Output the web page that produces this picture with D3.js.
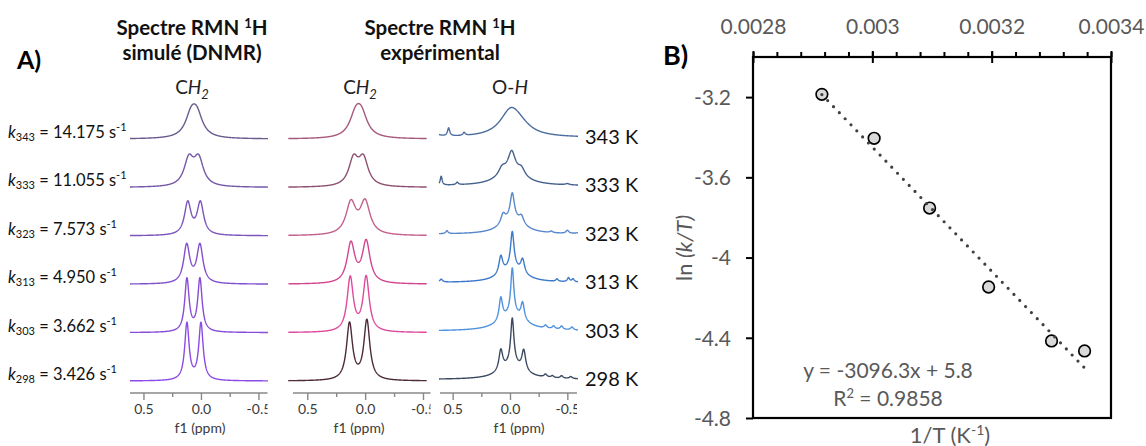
<!DOCTYPE html>
<html>
<head>
<meta charset="utf-8">
<script src="https://cdnjs.cloudflare.com/ajax/libs/d3/7.8.5/d3.min.js"></script>
<style>
  body { margin: 0; background: #fff; }
  svg text { font-family: Lato, "Open Sans", sans-serif; }
</style>
</head>
<body>
<svg id="chart" width="1146" height="446"></svg>
<script>
// temperatures (K) and fitted DNMR exchange rates (s-1)
const temps = [343, 333, 323, 313, 303, 298];
const kRates = [14.175, 11.055, 7.573, 4.950, 3.662, 3.426];
const kText = ["14.175", "11.055", "7.573", "4.950", "3.662", "3.426"];

// ppm axis of the spectra
const ppmMajor = [0.5, 0, -0.5];
const ppmMinor = [0.25, -0.25];

// simulated CH2 peaks, one list per temperature: [ppm, intensity, half width ppm]
const simCH2 = [
  [[0.085, 20.6, 0.06], [0.035, 20.6, 0.06]],
  [[0.105, 26.3, 0.05], [0.02, 26.3, 0.05]],
  [[0.115, 32.2, 0.034], [0.005, 32.2, 0.034]],
  [[0.124, 38.2, 0.032], [0.009, 38.2, 0.032]],
  [[0.122, 52.9, 0.023], [0.009, 52.9, 0.023]],
  [[0.122, 57, 0.023], [0.0, 57, 0.023]]
];

// experimental CH2 peaks
const expCH2 = [
  [[0.082, 20.6, 0.062], [0.032, 20.6, 0.062]],
  [[0.10, 26.3, 0.05], [0.015, 26.3, 0.05]],
  [[0.123, 31.5, 0.051], [0.0, 32.3, 0.051]],
  [[0.123, 39.7, 0.04], [-0.009, 41.5, 0.04]],
  [[0.129, 54, 0.032], [-0.009, 54.5, 0.032]],
  [[0.135, 56.7, 0.031], [-0.015, 59.6, 0.031]]
];

// experimental O-H peaks
const expOH = [
  [[-0.005, 24, 0.11], [-0.08, 8, 0.12], [0.535, 8, 0.012], [0.40, 3, 0.012], [0.66, 4, 0.04]],
  [[-0.01, 15, 0.13], [-0.015, 18.5, 0.035], [0.07, 7, 0.035], [-0.10, 7, 0.035], [0.60, 9, 0.01], [0.46, 2.5, 0.012], [-0.5, 1.2, 0.02]],
  [[-0.02, 14, 0.12], [-0.02, 26, 0.022], [0.06, 10, 0.025], [-0.10, 8, 0.025], [0.55, 3, 0.012], [-0.36, 1.5, 0.015], [-0.5, 3, 0.015], [-0.62, 3, 0.02]],
  [[-0.02, 14, 0.12], [-0.02, 36, 0.018], [0.08, 18, 0.02], [-0.11, 14, 0.02], [0.60, 3, 0.015], [-0.41, 2.5, 0.012], [-0.51, 4, 0.012], [-0.55, 3, 0.012]],
  [[-0.02, 16, 0.13], [-0.02, 46, 0.016], [0.08, 23, 0.018], [-0.11, 17, 0.018], [-0.31, 3, 0.015], [-0.38, 3, 0.015], [-0.45, 3.5, 0.015], [-0.54, 3, 0.015]],
  [[-0.02, 14, 0.12], [-0.02, 46, 0.017], [0.08, 21, 0.02], [-0.12, 20.5, 0.02], [-0.31, 3, 0.015], [-0.37, 2, 0.015], [-0.45, 2.5, 0.015], [-0.53, 2, 0.015]]
];

const simColors = ["#6c5b8e", "#7459a6", "#7b55bb", "#8150cc", "#874dd8", "#8c4be6"];
const ch2Colors = ["#a65a7c", "#8e5070", "#c4608c", "#d24690", "#e04a9c", "#4e2a3a"];
const ohColors = ["#4c6e9e", "#46638f", "#5888cc", "#3d79cb", "#4f92de", "#3b4a62"];

// Eyring plot
const invTTicks = [0.0028, 0.003, 0.0032, 0.0034];
const invTLabels = ["0.0028", "0.003", "0.0032", "0.0034"];
const lnTicks = [-3.2, -3.6, -4, -4.4, -4.8];
const lnLabels = ["-3.2", "-3.6", "-4", "-4.4", "-4.8"];
const eqText = "y = -3096.3x + 5.8";
const r2Value = "0.9858";

const svg = d3.select("#chart");
svg.append("rect").attr("width", 1146).attr("height", 446).attr("fill", "#fff");

const rowY = d3.scalePoint().domain(temps).range([139, 381]);

function lorentz(peaks, ppm) {
  return d3.sum(peaks, ([c, a, w]) => a * w * w / (w * w + (ppm - c) * (ppm - c)));
}

const panels = [
  { dom: [0.617, -0.583], range: [130, 268], axis: [130, 268], clip: 267.5, label: 200 },
  { dom: [0.664, -0.532], range: [288.3, 426.7], axis: [293, 431], clip: 430.5, label: 359 },
  { dom: [0.619, -0.593], range: [439, 578], axis: [440, 578], clip: 577, label: 519 }
];
panels.forEach(p => {
  p.x = d3.scaleLinear().domain(p.dom).range(p.range);
  p.grid = d3.range(p.dom[0], p.dom[1] - 0.0001, -0.002);
});

const yAmp = d3.scaleLinear().domain([0, 60]).range([0, 60]);

const gA = svg.append("g");

function drawCurve(panel, peaks, base, color) {
  const line = d3.line().x(d => panel.x(d)).y(d => base - yAmp(lorentz(peaks, d)));
  gA.append("path").attr("d", line(panel.grid)).attr("fill", "none")
    .attr("stroke", color).attr("stroke-width", 1.4).attr("stroke-linejoin", "round");
}

temps.forEach((t, i) => {
  const base = rowY(t);
  drawCurve(panels[0], simCH2[i], base, simColors[i]);
  drawCurve(panels[1], expCH2[i], base, ch2Colors[i]);
  drawCurve(panels[2], expOH[i], base - 1.5, ohColors[i]);

  // k labels
  const lab = gA.append("text").attr("x", 8).attr("y", base - 5)
    .attr("dominant-baseline", "middle").attr("font-size", 16.5).attr("fill", "#111");
  lab.append("tspan").attr("font-style", "italic").text("k");
  lab.append("tspan").attr("font-size", 11).attr("dy", 4).text(t);
  lab.append("tspan").attr("dy", -4).text(" = " + kText[i] + " s");
  lab.append("tspan").attr("font-size", 11).attr("dy", -6).text("-1");

  gA.append("text").attr("x", 585).attr("y", base).attr("dominant-baseline", "middle")
    .attr("font-size", 20).attr("fill", "#111").text(t + " K");
});

// ppm axes
panels.forEach((p, i) => {
  const clipId = "clip" + i;
  svg.append("clipPath").attr("id", clipId).append("rect")
    .attr("x", p.axis[0] - 20).attr("y", -10).attr("width", p.clip - p.axis[0] + 20).attr("height", 60);
  const g = gA.append("g").attr("transform", "translate(0,393)").attr("clip-path", `url(#${clipId})`);
  g.append("line").attr("x1", p.axis[0]).attr("x2", p.axis[1]).attr("stroke", "#888").attr("stroke-width", 1.6);
  const major = g.append("g").call(d3.axisBottom(p.x).tickValues(ppmMajor).tickSize(7).tickPadding(4)
    .tickFormat(d => d === 0 ? "0.0" : d.toFixed(1)));
  const minor = g.append("g").call(d3.axisBottom(p.x).tickValues(ppmMinor).tickSize(4).tickFormat(""));
  [major, minor].forEach(a => {
    a.select(".domain").remove();
    a.selectAll(".tick line").attr("stroke", "#888").attr("stroke-width", 1.4);
  });
  major.selectAll(".tick text").attr("font-family", "DejaVu Sans").attr("font-size", 14).attr("fill", "#3a3a3a");
  gA.append("text").attr("x", p.label).attr("y", 433).attr("text-anchor", "middle")
    .attr("font-family", "DejaVu Sans").attr("font-size", 14).attr("fill", "#3a3a3a").text("f1 (ppm)");
});

// headers
function header(x, second) {
  const tx = gA.append("text").attr("x", x).attr("y", 35).attr("text-anchor", "middle")
    .attr("font-size", 20.5).attr("font-weight", "bold").attr("fill", "#111");
  tx.append("tspan").text("Spectre RMN ");
  tx.append("tspan").attr("font-size", 13).attr("dy", -7).text("1");
  tx.append("tspan").attr("dy", 7).text("H");
  gA.append("text").attr("x", x).attr("y", 60).attr("text-anchor", "middle")
    .attr("font-size", 20.5).attr("font-weight", "bold").attr("fill", "#111").text(second);
}
header(192, "simulé (DNMR)");
header(440, "expérimental");

gA.append("text").attr("x", 17).attr("y", 69).attr("font-size", 25).attr("font-weight", "bold").attr("fill", "#000").text("A)");

function groupLabel(x, parts) {
  const tx = gA.append("text").attr("x", x).attr("y", 94).attr("text-anchor", "middle")
    .attr("font-family", "Liberation Sans").attr("font-size", 19).attr("fill", "#222");
  parts.forEach(([s, it, dy, fs]) => {
    const ts = tx.append("tspan").text(s);
    if (it) ts.attr("font-style", "italic");
    if (dy) ts.attr("dy", dy);
    if (fs) ts.attr("font-size", fs);
  });
}
groupLabel(192, [["C"], ["H", true], ["2", true, 5, 13]]);
groupLabel(360, [["C"], ["H", true], ["2", true, 5, 13]]);
groupLabel(510, [["O-"], ["H", true]]);

// ---- Panel B ----
const gB = svg.append("g");
const xB = d3.scaleLinear().domain([0.0028, 0.0034]).range([753, 1111]);
const yB = d3.scaleLinear().domain([-4.8, -3.0]).range([418, 57]);

const invT = temps.map(t => 1 / t);
const lnkT = kRates.map((k, i) => Math.log(k / temps[i]));
const pts = invT.map((x, i) => [x, lnkT[i]]);

gB.append("text").attr("x", 663).attr("y", 65).attr("font-size", 27).attr("font-weight", "bold").attr("fill", "#000").text("B)");

const topMinor = gB.append("g").attr("transform", "translate(0,57)")
  .call(d3.axisTop(xB).tickValues(d3.range(0, 16).map(i => 0.0028 + i * 0.00004)).tickSize(5).tickFormat(""));
const topMajor = gB.append("g").attr("transform", "translate(0,57)")
  .call(d3.axisTop(xB).tickValues(invTTicks).tickSize(6).tickPadding(17).tickFormat((d, i) => invTLabels[i]));
topMajor.selectAll(".tick").append("line").attr("y2", 6);
const left = gB.append("g").attr("transform", "translate(753,0)")
  .call(d3.axisLeft(yB).tickValues(lnTicks).tickSize(7).tickPadding(15).tickFormat((d, i) => lnLabels[i]));
[topMinor, topMajor, left].forEach(a => {
  a.select(".domain").remove();
  a.selectAll(".tick line").attr("stroke", "#000").attr("stroke-width", 2);
  a.selectAll(".tick text").attr("font-family", "Lato").attr("font-size", 21).attr("fill", "#595959");
});
left.selectAll(".tick text").attr("dy", "0.35em");

gB.append("rect").attr("x", xB(0.0028)).attr("y", yB(-3.0))
  .attr("width", xB(0.0034) - xB(0.0028)).attr("height", yB(-4.8) - yB(-3.0))
  .attr("fill", "none").attr("stroke", "#000").attr("stroke-width", 2.2);

gB.selectAll("circle.pt").data(pts).enter().append("circle").attr("class", "pt")
  .attr("cx", d => xB(d[0])).attr("cy", d => yB(d[1])).attr("r", 5.8)
  .attr("fill", "#d9d9d9").attr("stroke", "#000").attr("stroke-width", 1.7);

// least squares trendline
const mx = d3.mean(invT), my = d3.mean(lnkT);
const slope = d3.sum(pts, d => (d[0] - mx) * (d[1] - my)) / d3.sum(pts, d => (d[0] - mx) ** 2);
const icpt = my - slope * mx;
const [xa, xb] = d3.extent(invT);
gB.append("line").attr("x1", xB(xa)).attr("y1", yB(slope * xa + icpt))
  .attr("x2", xB(xb)).attr("y2", yB(slope * xb + icpt))
  .attr("stroke", "#404040").attr("stroke-width", 3.2).attr("stroke-linecap", "round")
  .attr("stroke-dasharray", "0 8.4");

gB.append("text").attr("x", 888).attr("y", 378).attr("text-anchor", "middle")
  .attr("font-size", 21).attr("fill", "#595959").text(eqText);
const r2 = gB.append("text").attr("x", 888).attr("y", 406).attr("text-anchor", "middle")
  .attr("font-size", 21).attr("fill", "#595959");
r2.append("tspan").text("R");
r2.append("tspan").attr("font-size", 13).attr("dy", -8).text("2");
r2.append("tspan").attr("dy", 8).text(" = " + r2Value);

const yl = gB.append("text").attr("transform", "translate(692,248) rotate(-90)").attr("text-anchor", "middle")
  .attr("font-size", 22).attr("fill", "#595959");
yl.append("tspan").text("ln ");
yl.append("tspan").attr("font-style", "italic").text("(k/T)");

const xl = gB.append("text").attr("x", 950).attr("y", 443).attr("text-anchor", "middle")
  .attr("font-size", 22).attr("fill", "#595959");
xl.append("tspan").text("1/T (K");
xl.append("tspan").attr("font-size", 14).attr("dy", -8).text("-1");
xl.append("tspan").attr("dy", 8).text(")");
</script>
</body>
</html>
